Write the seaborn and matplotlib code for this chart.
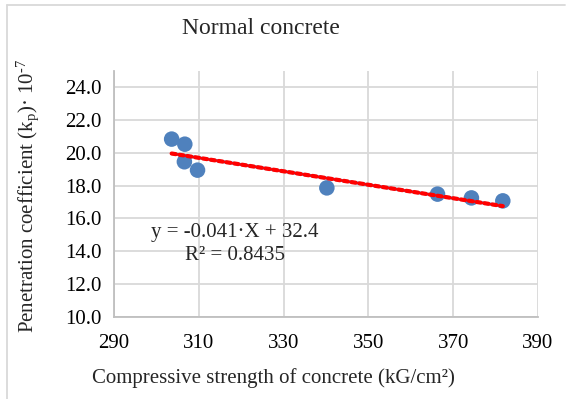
import numpy as np
import pandas as pd
import matplotlib
matplotlib.use("Agg")
import matplotlib.pyplot as plt
from matplotlib.lines import Line2D
import seaborn as sns

# Data
strength = [303.6, 306.7, 306.6, 309.7, 340.2, 366.3, 374.3, 381.7]
kp = [20.83, 20.52, 19.45, 18.94, 17.86, 17.48, 17.25, 17.07]
slope = -0.041
intercept = 32.4
r2_text = "0.8435"
x_ticks = [290, 310, 330, 350, 370, 390]
y_ticks = [10.0, 12.0, 14.0, 16.0, 18.0, 20.0, 22.0, 24.0]

sns.set_theme(style="white")
plt.rcParams["font.family"] = ["Liberation Serif", "DejaVu Serif"]
plt.rcParams["mathtext.fontset"] = "custom"
plt.rcParams["mathtext.rm"] = "Liberation Serif"
plt.rcParams["mathtext.it"] = "Liberation Serif:italic"
plt.rcParams["axes.unicode_minus"] = False

W, H = 566, 399
fig = plt.figure(figsize=(W / 100, H / 100), dpi=100)
fig.patch.set_facecolor("white")

left, right, top, bottom = 114, 538, 71, 317
ax = fig.add_axes([left / W, 1 - bottom / H, (right - left) / W, (bottom - top) / H])

df = pd.DataFrame({"x": strength, "y": kp})

ax.set_xlim(290, 390)
ax.set_ylim(10, 24 + 16 / 16.4)
ax.set_xticks(x_ticks)
ax.set_yticks(y_ticks)
ax.set_xticklabels([f"{v:d}" for v in x_ticks])
ax.set_yticklabels([f"{v:.1f}" for v in y_ticks])

grid_c = "#D9D9D9"
ax.grid(True, color=grid_c, linewidth=1.3)
ax.set_axisbelow(True)
for s in ["top", "right"]:
    ax.spines[s].set_visible(False)
for s in ["left", "bottom"]:
    ax.spines[s].set_color("#BFBFBF")
    ax.spines[s].set_linewidth(1.3)
ax.tick_params(axis="both", length=0, labelsize=15, colors="black", pad=9)
ax.tick_params(axis="x", pad=12)

sns.scatterplot(data=df, x="x", y="y", ax=ax, s=125, color="#4F81BD",
                edgecolor="none", zorder=3, legend=False)

xl = np.array([min(strength), max(strength)])
yl = slope * xl + intercept
ax.plot(xl, yl, color="#4F81BD", linewidth=2.2, zorder=4)
ax.plot(xl, yl, color="#FF0000", linewidth=3.0, zorder=5,
        linestyle=(0, (1.0, 0.9)), dash_capstyle="round")

ax.set_xlabel("")
ax.set_ylabel("")

fig.text(261 / W, 1 - 28 / H, "Normal concrete", ha="center", va="center", fontsize=17)
fig.text(273 / W, 1 - 378 / H, "Compressive strength of concrete (kG/cm²)",
         ha="center", va="center", fontsize=15)
fig.text(28 / W, 1 - 196 / H,
         r"Penetration coefficient (k$_\mathregular{p}$)· 10$^{\text{-7}}$",
         ha="center", va="center", rotation=90, fontsize=15)
fig.text(235 / W, 1 - 232 / H, "y = -0.041·X + 32.4", ha="center", va="center", fontsize=15)
fig.text(235 / W, 1 - 256 / H, f"R² = {r2_text}", ha="center", va="center", fontsize=15)

fig.add_artist(Line2D([7 / W, 565 / W], [1 - 4.5 / H, 1 - 4.5 / H],
                      transform=fig.transFigure, color="#D9D9D9", linewidth=1.3))
fig.add_artist(Line2D([7 / W, 7 / W], [1 - 4.5 / H, 0],
                      transform=fig.transFigure, color="#D9D9D9", linewidth=1.3))

fig.savefig("out.png", dpi=100, facecolor="white")
